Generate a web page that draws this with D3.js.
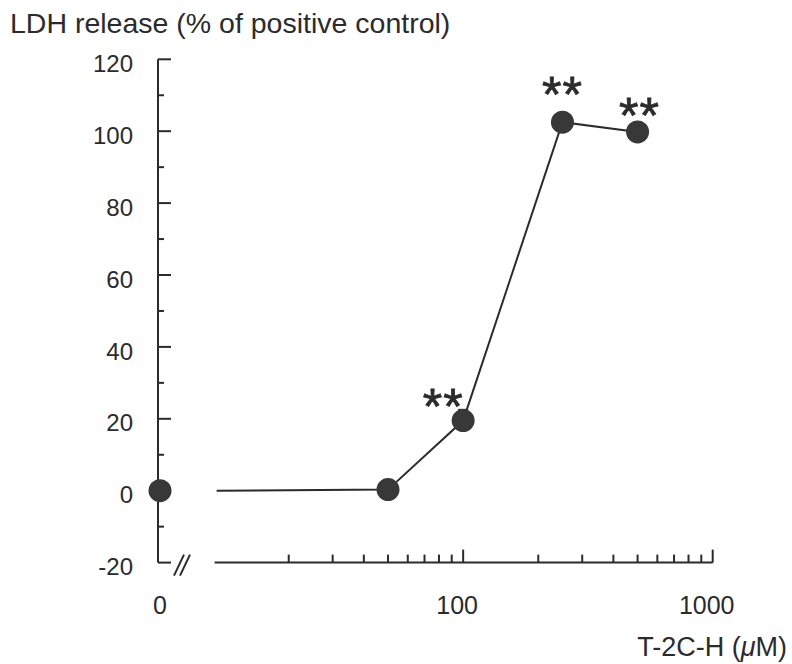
<!DOCTYPE html>
<html>
<head>
<meta charset="utf-8">
<script src="https://cdn.jsdelivr.net/npm/d3@7"></script>
<style>
  body { margin: 0; background: #fff; }
  text { font-family: "Liberation Sans", Arial, sans-serif; fill: #2b2b2b; }
</style>
</head>
<body>
<script>
// Données
const controlDose = 0;
const controlValue = 0;
const doses = [50, 100, 250, 500];            // T-2C-H (µM)
const ldhValues = [0.3, 19.5, 102.5, 99.8];   // % du contrôle positif
const ldhErrors = [0.8, 3, 2.5, 0.8];
const signif = ["", "**", "**", "**"];
const yTicks = [-20, 0, 20, 40, 60, 80, 100, 120];
const xMajorTicks = [100, 1000];
const xMinorTicks = [20, 30, 40, 50, 60, 70, 80, 90, 200, 300, 400, 500, 600, 700, 800, 900];

const width = 792, height = 664;
const ink = "#2b2b2b";

const svg = d3.select("body").append("svg")
    .attr("width", width)
    .attr("height", height);

// Échelles
const y = d3.scaleLinear().domain([-20, 120]).range([562.6, 59.3]);
const x = d3.scaleLog().domain([10, 1000]).range([213.6, 712.7]);
const yAxisX = 158;

// Axe Y
const gy = svg.append("g").attr("transform", `translate(${yAxisX},0)`);
gy.append("line")
    .attr("y1", y(-20)).attr("y2", y(120))
    .attr("stroke", ink).attr("stroke-width", 2);
gy.selectAll(".major").data(yTicks).enter().append("line")
    .attr("x1", 0).attr("x2", 13)
    .attr("y1", d => y(d)).attr("y2", d => y(d))
    .attr("stroke", ink).attr("stroke-width", 2);
gy.selectAll(".minor").data(yTicks.slice(0, -1).map(d => d + 10)).enter().append("line")
    .attr("x1", 0).attr("x2", 6)
    .attr("y1", d => y(d)).attr("y2", d => y(d))
    .attr("stroke", ink).attr("stroke-width", 2);
gy.selectAll("text").data(yTicks).enter().append("text")
    .attr("x", -25)
    .attr("y", d => y(d) + 4)
    .attr("dy", "0.36em")
    .attr("text-anchor", "end")
    .attr("font-size", 24)
    .text(d => d);

// Axe X (logarithmique)
const xAxisY = y(-20);
const gx = svg.append("g").attr("transform", `translate(0,${xAxisY})`);
gx.append("line")
    .attr("x1", x(10) + 1).attr("x2", x(1000))
    .attr("stroke", ink).attr("stroke-width", 2);
gx.selectAll(".major").data(xMajorTicks).enter().append("line")
    .attr("x1", d => x(d)).attr("x2", d => x(d))
    .attr("y1", 0).attr("y2", -13)
    .attr("stroke", ink).attr("stroke-width", 2);
gx.selectAll(".minor").data(xMinorTicks).enter().append("line")
    .attr("x1", d => x(d)).attr("x2", d => x(d))
    .attr("y1", 0).attr("y2", -8)
    .attr("stroke", ink).attr("stroke-width", 2);
gx.selectAll("text").data(xMajorTicks).enter().append("text")
    .attr("x", d => x(d) - 6)
    .attr("y", 51)
    .attr("text-anchor", "middle")
    .attr("font-size", 25)
    .text(d => d);
gx.append("text")
    .attr("x", yAxisX + 2)
    .attr("y", 51)
    .attr("text-anchor", "middle")
    .attr("font-size", 25)
    .text(controlDose);

// Coupure d'axe "//"
[0, 6].forEach(off => {
    gx.append("line")
        .attr("x1", 174 + off).attr("y1", 13)
        .attr("x2", 184 + off).attr("y2", -8)
        .attr("stroke", ink).attr("stroke-width", 2);
});

// Titres
svg.append("text")
    .attr("x", 10).attr("y", 33)
    .attr("font-size", 28.5)
    .text("LDH release (% of positive control)");
const xl = svg.append("text")
    .attr("x", 787).attr("y", 656)
    .attr("text-anchor", "end")
    .attr("font-size", 27);
xl.append("tspan").text("T-2C-H (");
xl.append("tspan").attr("font-style", "italic").text("\u03bc");
xl.append("tspan").text("M)");

// Données
const pts = doses.map((d, i) => ({ dose: d, value: ldhValues[i], err: ldhErrors[i], sig: signif[i] }));

// Segment depuis la coupure jusqu'au premier point
const line = d3.line().x(d => d[0]).y(d => d[1]);
svg.append("path")
    .attr("d", line([[x(10) + 3, y(controlValue)], ...pts.map(p => [x(p.dose), y(p.value)])]))
    .attr("fill", "none")
    .attr("stroke", ink)
    .attr("stroke-width", 2);

// Barres d'erreur
pts.forEach(p => {
    svg.append("line")
        .attr("x1", x(p.dose)).attr("x2", x(p.dose))
        .attr("y1", y(p.value)).attr("y2", y(p.value + p.err))
        .attr("stroke", ink).attr("stroke-width", 2);
    svg.append("line")
        .attr("x1", x(p.dose) - 5).attr("x2", x(p.dose) + 5)
        .attr("y1", y(p.value + p.err)).attr("y2", y(p.value + p.err))
        .attr("stroke", ink).attr("stroke-width", 2);
});

// Points
svg.append("g").selectAll("circle")
    .data(pts).enter().append("circle")
    .attr("cx", d => x(d.dose))
    .attr("cy", d => y(d.value))
    .attr("r", 11.5)
    .attr("fill", "#383838");
svg.append("circle")
    .attr("cx", yAxisX + 2)
    .attr("cy", y(controlValue))
    .attr("r", 11.5)
    .attr("fill", "#383838");

// Étoiles de significativité (décalage du libellé par rapport au point)
const starOffset = { 100: [-20, -27], 250: [0, -40], 500: [2, -29] };
svg.append("g").selectAll("text")
    .data(pts.filter(p => p.sig)).enter().append("text")
    .attr("x", d => x(d.dose) + starOffset[d.dose][0])
    .attr("y", d => y(d.value) + starOffset[d.dose][1] + 30)
    .attr("text-anchor", "middle")
    .attr("font-size", 50)
    .attr("letter-spacing", 1)
    .attr("stroke", ink)
    .attr("stroke-width", 0.8)
    .text(d => d.sig);
</script>
</body>
</html>
